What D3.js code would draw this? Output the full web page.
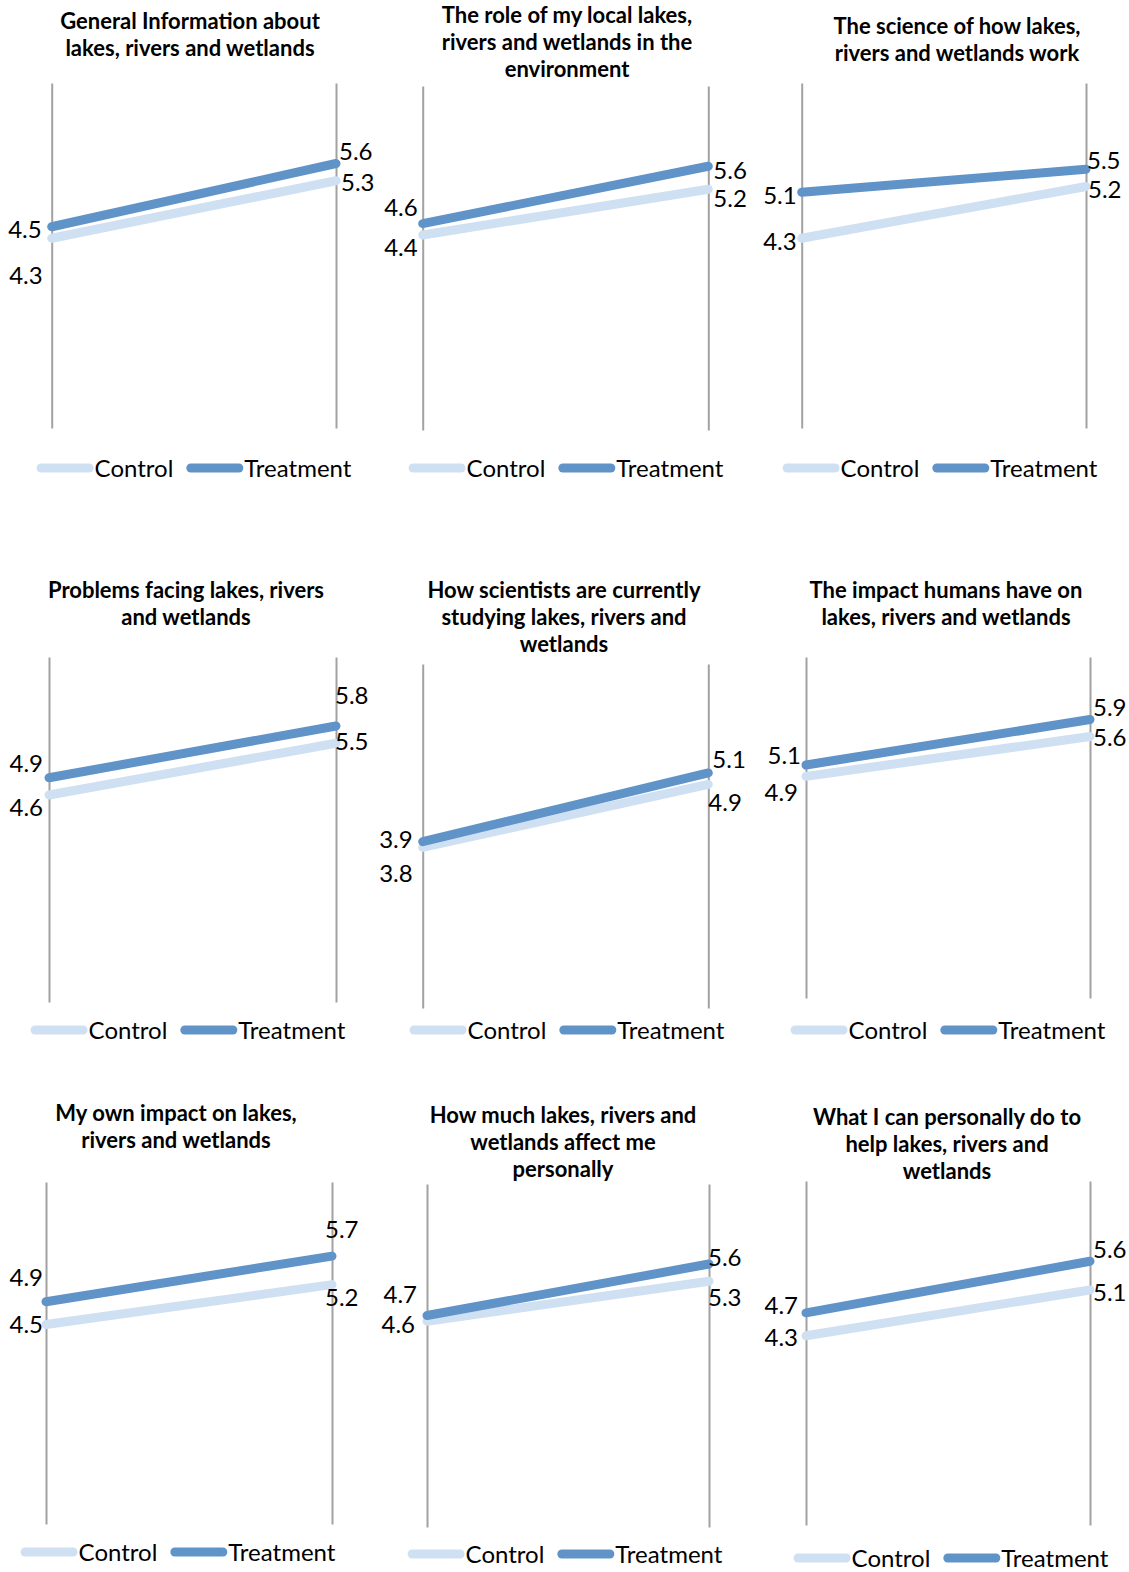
<!DOCTYPE html>
<html>
<head>
<meta charset="utf-8">
<script src="https://cdn.jsdelivr.net/npm/d3@7"></script>
<style>
  html, body { margin: 0; padding: 0; background: #ffffff; }
  svg { display: block; }
  text { font-family: Lato, "Open Sans", "Noto Sans", sans-serif; fill: #000; }
</style>
</head>
<body>
<svg id="chart" width="1129" height="1572"></svg>
<script>
// Survey topics (one small slope chart each), titles split into lines
const titles = [
  ["General Information about", "lakes, rivers and wetlands"],
  ["The role of my local lakes,", "rivers and wetlands in the", "environment"],
  ["The science of how lakes,", "rivers and wetlands work"],
  ["Problems facing lakes, rivers", "and wetlands"],
  ["How scientists are currently", "studying lakes, rivers and", "wetlands"],
  ["The impact humans have on", "lakes, rivers and wetlands"],
  ["My own impact on lakes,", "rivers and wetlands"],
  ["How much lakes, rivers and", "wetlands affect me", "personally"],
  ["What I can personally do to", "help lakes, rivers and", "wetlands"]
];

// Mean ratings on a 1–7 scale, before and after
const controlPre    = [4.3, 4.4, 4.3, 4.6, 3.8, 4.9, 4.5, 4.6, 4.3];
const controlPost   = [5.3, 5.2, 5.2, 5.5, 4.9, 5.6, 5.2, 5.3, 5.1];
const treatmentPre  = [4.5, 4.6, 5.1, 4.9, 3.9, 5.1, 4.9, 4.7, 4.7];
const treatmentPost = [5.6, 5.6, 5.5, 5.8, 5.1, 5.9, 5.7, 5.6, 5.6];

const seriesNames = ["Control", "Treatment"];
const timePoints = ["Pre", "Post"];
const scaleDomain = [1, 7];

// Styling
const colors = { Control: "#cfe0f3", Treatment: "#6093c8" };
const axisColor = "#a2a2a2";
const lineWidth = 9;
const titleSize = 22;
const labelSize = 24;

// Plot frames for the 3x3 grid
const frames = [
  {x0: 51.7, x1: 336,   top: 83,   bottom: 428,  tx: 190, ty: 21,   lx: 194, ly: 468},
  {x0: 422.7, x1: 708.3, top: 86,  bottom: 430,  tx: 567, ty: 15,   lx: 566, ly: 468},
  {x0: 801.7, x1: 1086, top: 83,   bottom: 428,  tx: 957, ty: 26,   lx: 940, ly: 468},
  {x0: 49,   x1: 336,   top: 657,  bottom: 1002, tx: 186, ty: 590,  lx: 188, ly: 1030},
  {x0: 422.7, x1: 708.3, top: 664, bottom: 1008, tx: 564, ty: 590,  lx: 567, ly: 1030},
  {x0: 806,  x1: 1090,  top: 657,  bottom: 998,  tx: 946, ty: 590,  lx: 948, ly: 1030},
  {x0: 46,   x1: 332,   top: 1182, bottom: 1524, tx: 176, ty: 1113, lx: 178, ly: 1552},
  {x0: 427,  x1: 709,   top: 1184, bottom: 1527, tx: 563, ty: 1115, lx: 565, ly: 1554},
  {x0: 806,  x1: 1090,  top: 1181, bottom: 1525, tx: 947, ty: 1117, lx: 951, ly: 1558}
];

// Value-label offsets [dx, dy] from each end point, to keep labels apart:
// order = treatment pre, control pre, treatment post, control post
const labelNudges = [
  [[-10, 3],  [-9, 37],  [3, -12],  [5, 2]],
  [[-5, -16], [-5, 12],  [5, 4],    [5, 9]],
  [[-5, 3],   [-5, 3],   [1, -9],   [2, 3]],
  [[-6, -14], [-6, 12],  [-1, -31], [-1, -2]],
  [[-10, -2], [-10, 26], [4, -14],  [0, 18]],
  [[-5, -10], [-8, 16],  [3, -12],  [3, 1]],
  [[-3, -24], [-3, 0],   [-7, -27], [-7, 13]],
  [[-10, -21],[-12, 3],  [-1, -7],  [-1, 16]],
  [[-8, -8],  [-8, 2],   [3, -12],  [3, 2]]
];

const svg = d3.select("#chart");
const fmt = d3.format(".1f");

titles.forEach((titleLines, i) => {
  const f = frames[i];
  const g = svg.append("g").attr("class", "panel");

  const x = d3.scalePoint().domain(timePoints).range([f.x0, f.x1]);
  const y = d3.scaleLinear().domain(scaleDomain).range([f.bottom, f.top]);

  // Title
  g.append("text")
    .attr("text-anchor", "middle")
    .style("font-weight", "700")
    .style("font-size", titleSize + "px")
    .selectAll("tspan")
    .data(titleLines)
    .join("tspan")
    .attr("x", f.tx)
    .attr("y", (d, k) => f.ty + k * 27)
    .attr("dy", "0.36em")
    .text(d => d);

  // Vertical axes at both time points
  const axisL = d3.axisLeft(y).tickValues([]).tickSize(0);
  const axisR = d3.axisRight(y).tickValues([]).tickSize(0);
  [axisL, axisR].forEach((ax, k) => {
    const a = g.append("g")
      .attr("transform", `translate(${x(timePoints[k])},0)`)
      .call(ax);
    a.select(".domain").attr("stroke", axisColor).attr("stroke-width", 2);
  });

  const series = [
    {name: "Control", values: [controlPre[i], controlPost[i]]},
    {name: "Treatment", values: [treatmentPre[i], treatmentPost[i]]}
  ];

  const line = d3.line()
    .x((d, k) => x(timePoints[k]))
    .y(d => y(d));

  g.selectAll("path.series")
    .data(series)
    .join("path")
    .attr("class", "series")
    .attr("d", d => line(d.values))
    .attr("fill", "none")
    .attr("stroke", d => colors[d.name])
    .attr("stroke-width", lineWidth)
    .attr("stroke-linecap", "round");

  // End-point value labels
  const labels = [
    {v: treatmentPre[i], side: 0},
    {v: controlPre[i], side: 0},
    {v: treatmentPost[i], side: 1},
    {v: controlPost[i], side: 1}
  ];
  g.selectAll("text.val")
    .data(labels)
    .join("text")
    .attr("class", "val")
    .style("font-size", labelSize + "px")
    .attr("text-anchor", d => d.side === 0 ? "end" : "start")
    .attr("x", (d, k) => x(timePoints[d.side]) + labelNudges[i][k][0])
    .attr("y", (d, k) => y(d.v) + labelNudges[i][k][1])
    .attr("dy", "0.36em")
    .text(d => fmt(d.v));

  // Legend, centred under the plot
  const leg = g.append("g");
  const swatch = 57, gap = 13;
  let cursor = 0;
  seriesNames.forEach((name) => {
    const it = leg.append("g");
    it.append("line")
      .attr("x1", cursor + lineWidth / 2).attr("x2", cursor + swatch - lineWidth / 2)
      .attr("y1", 0).attr("y2", 0)
      .attr("stroke", colors[name])
      .attr("stroke-width", lineWidth)
      .attr("stroke-linecap", "round");
    const t = it.append("text")
      .attr("x", cursor + swatch + 1)
      .attr("y", 0)
      .attr("dy", "0.36em")
      .style("font-size", labelSize + "px")
      .text(name);
    cursor += swatch + 1 + t.node().getComputedTextLength() + gap;
  });
  const total = cursor - gap;
  leg.attr("transform", `translate(${f.lx - total / 2},${f.ly})`);
});
</script>
</body>
</html>
